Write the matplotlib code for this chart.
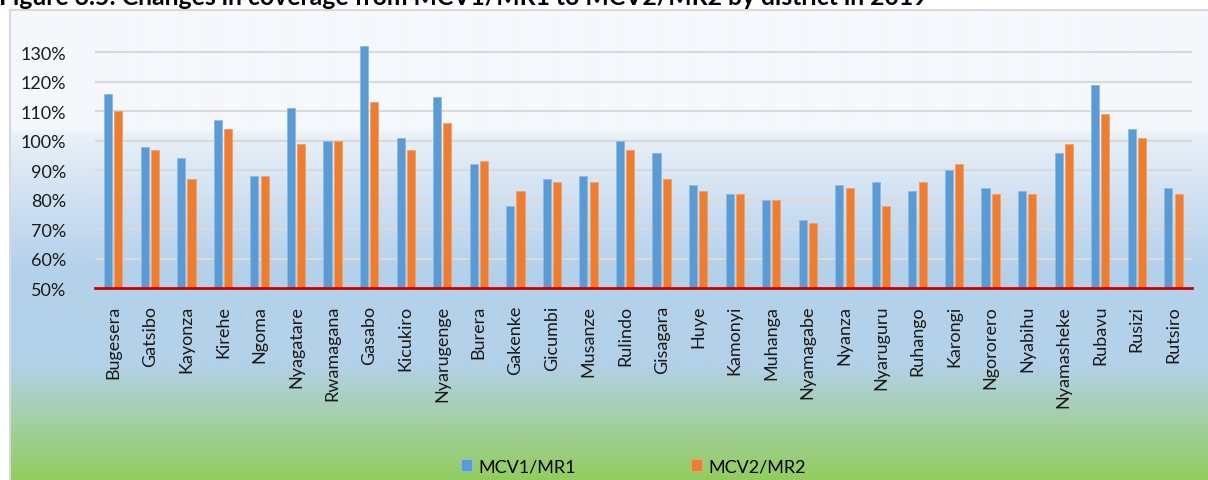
import numpy as np
import matplotlib
matplotlib.use("Agg")
import matplotlib.pyplot as plt
from matplotlib.colors import to_rgb
from matplotlib.patches import Rectangle

plt.rcParams['font.family'] = ['Lato', 'DejaVu Sans']

# Coverage by district (%)
districts = ["Bugesera", "Gatsibo", "Kayonza", "Kirehe", "Ngoma", "Nyagatare",
             "Rwamagana", "Gasabo", "Kicukiro", "Nyarugenge", "Burera", "Gakenke",
             "Gicumbi", "Musanze", "Rulindo", "Gisagara", "Huye", "Kamonyi",
             "Muhanga", "Nyamagabe", "Nyanza", "Nyaruguru", "Ruhango", "Karongi",
             "Ngororero", "Nyabihu", "Nyamasheke", "Rubavu", "Rusizi", "Rutsiro"]
mcv1 = [116, 98, 94, 107, 88, 111, 100, 132, 101, 115, 92, 78, 87, 88, 100,
        96, 85, 82, 80, 73, 85, 86, 83, 90, 84, 83, 96, 119, 104, 84]
mcv2 = [110, 97, 87, 104, 88, 99, 100, 113, 97, 106, 93, 83, 86, 86, 97,
        87, 83, 82, 80, 72, 84, 78, 86, 92, 82, 82, 99, 109, 101, 82]
yticks = [50, 60, 70, 80, 90, 100, 110, 120, 130]
series_names = ["MCV1/MR1", "MCV2/MR2"]

W, H = 1208, 481
fig = plt.figure(figsize=(W / 100, H / 100), dpi=100)
fig.patch.set_facecolor('white')

# Chart-area background: pale top, blue middle, green bottom
x0, y0 = 10, 11
bg = fig.add_axes([x0 / W, 0, 1 - x0 / W, (H - y0) / H])
stops_px = [y0, 130, 136, 268, 365, H]
stops_col = ['#f5f8fc', '#f5f8fc', '#e9f0f8', '#b5d1eb', '#b3d1e9', '#93cd5d']
rows = np.arange(y0, H) + 0.5
rgb = np.array([to_rgb(c) for c in stops_col])
grad = np.stack([np.interp(rows, stops_px, rgb[:, i]) for i in range(3)], axis=-1)[:, None, :]
bg.imshow(grad, aspect='auto', extent=[0, 1, 0, 1], origin='upper', interpolation='bilinear')
bg.axis('off')
fig.add_artist(Rectangle((x0 / W, -0.1), 1.0, (H - y0) / H + 0.1,
                         transform=fig.transFigure, fill=False,
                         edgecolor='#d9d9d9', lw=1.5))

# Title (sits above the chart box)
fig.text(-1 / W, 1 - 5 / H,
         "Figure 3.5: Changes in coverage from MCV1/MR1 to MCV2/MR2 by district in 2019",
         fontsize=17.8, fontweight='bold', color='black', ha='left', va='baseline')

# Bars
ax = fig.add_axes([95 / W, (H - 289.3) / H, (1191.7 - 95) / W, 250.8 / H])
ax.set_facecolor('none')
x = np.arange(len(districts))
bw = 0.22
b1 = ax.bar(x - 0.14, mcv1, bw, color='#5b9bd5', edgecolor='#8fbbe3', lw=0.7, zorder=2)
b2 = ax.bar(x + 0.14, mcv2, bw, color='#ed7d31', edgecolor='#f2a26d', lw=0.7, zorder=2)

ax.set_xlim(-0.5, len(districts) - 0.5)
ax.set_ylim(50, 135)
ax.set_yticks(yticks)
ax.set_yticklabels([f"{v}%" for v in yticks], fontsize=13, color='#1a1a1a')
ax.set_xticks(x)
ax.set_xticklabels(districts, rotation=90, fontsize=13, color='#1a1a1a')
ax.tick_params(axis='both', length=0)
ax.tick_params(axis='y', pad=21)
ax.tick_params(axis='x', pad=12)
ax.yaxis.grid(True, color='#d9d9d9', lw=1.6, zorder=0)
ax.set_axisbelow(True)
for s in ax.spines.values():
    s.set_visible(False)
ax.axhline(50, color='#cc0000', lw=2.0, zorder=3, clip_on=False)

fig.legend([b1, b2], series_names, loc='center',
           bbox_to_anchor=(633.5 / W, (H - 467.5) / H), ncol=2, frameon=False,
           fontsize=13, handlelength=0.6, handleheight=0.6,
           handletextpad=0.35, columnspacing=6.4)

fig.savefig("out.png", dpi=100)
